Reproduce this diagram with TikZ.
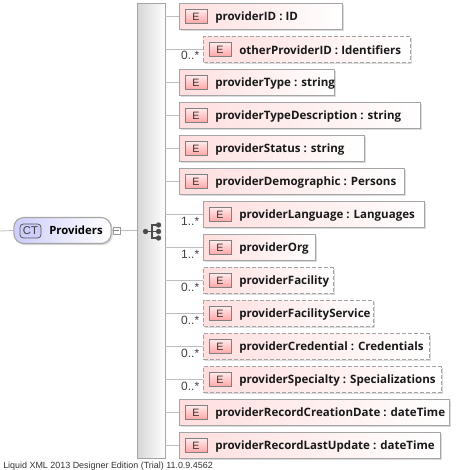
\documentclass[tikz,border=0pt]{standalone}
\usepackage{fontspec}
\setmainfont{Liberation Sans}
\newfontfamily\boldf{Open Sans}
\usetikzlibrary{shadows,calc}
\definecolor{edgegray}{RGB}{165,165,165}
\definecolor{linegray}{RGB}{190,190,190}
\definecolor{pinkfill}{RGB}{255,222,222}
\definecolor{ctblue}{RGB}{205,205,250}
\tikzset{
  x=0.75pt,y=-0.75pt,
  elembox/.style={draw=edgegray,line width=0.8pt,left color=pinkfill,right color=white,minimum height=19.3pt,inner sep=0pt,anchor=north west,
    general shadow={fill=black!14,shadow xshift=1.2pt,shadow yshift=-1.2pt}},
  dashbox/.style={elembox,dashed,dash pattern=on 3pt off 1.5pt},
  tagbox/.style={draw=black!50,line width=0.6pt,top color=pinkfill!60!white,bottom color=red!35!white,minimum width=16.5pt,minimum height=10.5pt,inner sep=0pt,font=\fontsize{8}{8}\selectfont,text=black!80},
  etext/.style={font=\boldf\bfseries\fontsize{8.65}{10}\selectfont,anchor=west,inner sep=0pt,text=black!90},
  conn/.style={draw=linegray,line width=0.6pt},
  occ/.style={font=\fontsize{9}{9}\selectfont,text=black!75,inner sep=0pt,anchor=base east},
  dotn/.style={circle,fill=black!70,inner sep=0pt,minimum size=4pt},
  spine/.style={draw=edgegray,line width=0.8pt,left color=black!16,right color=white},
  foot/.style={font=\fontsize{6.7}{8}\selectfont,inner sep=0pt,anchor=base west,text=black!80}
}
\newcommand{\elemrow}[7]{% name, style, x, y, width, text, occurrence
  \coordinate (#1c) at (165,#4+13);
  \draw[conn] (#1c) -- (#3,#4+13);
  \node[#2,minimum width=#5*0.75pt-0.5pt] (#1) at (#3,#4) {};
  \node[tagbox] (#1t) at ($(#1.west)+(12.75pt,0)$) {E};
  \node[etext] (#1l) at ($(#1.west)+(27pt,-0.5pt)$) {#6};
  \ifx&#7&\else\node[occ] (#1o) at (199.5,#4+24) {#7};\fi
}
\begin{document}
\begin{tikzpicture}
\useasboundingbox (0,0) rectangle (464,470);
\coordinate (leftend) at (0,231);
\node[draw=edgegray,line width=0.8pt,rounded corners=7.5pt,left color=ctblue,right color=white,minimum width=73pt,minimum height=19.5pt,inner sep=0pt,general shadow={fill=black!14,shadow xshift=1.2pt,shadow yshift=-1.2pt}] (root) at (62.5,230.5) {};
\draw[conn] (leftend) -- (root.west);
\node[draw=black!65,line width=0.6pt,rounded corners=2.5pt,fill=ctblue,minimum width=15.75pt,minimum height=10.5pt,inner sep=0pt,font=\fontsize{8.5}{8}\selectfont,text=black!75] (ct) at (30.5,231) {CT};
\node[font=\boldf\bfseries\fontsize{8.5}{10}\selectfont,anchor=west,inner sep=0pt] (rootl) at (49,230.5) {Providers};
\node[draw=black!40,line width=0.5pt,minimum size=5.5pt,inner sep=0pt] (minus) at (116.5,230.5) {};
\draw[black!50,line width=0.5pt] ($(minus.center)+(-1.8pt,0)$) -- ($(minus.center)+(1.8pt,0)$);
\draw[conn] (root.east) -- (minus.west);
\node[spine,minimum width=21pt,minimum height=341.5pt,inner sep=0pt,anchor=north west] (sp) at (137,3) {};
\draw[conn] (minus.east) -- (sp.west |- minus.east);
% sequence symbol
\node[dotn] (s0) at (145.5,231.5) {};
\node[dotn] (s1) at (158.5,225) {};
\node[dotn] (s2) at (158.5,231.5) {};
\node[dotn] (s3) at (158.5,238) {};
\coordinate (sj) at (152,231.5);
\draw[black!70,line width=0.8pt] (s0) -- (s2);
\draw[black!70,line width=0.8pt] (s1) -| (sj) |- (s3);
\elemrow{a}{elembox}{179}{3}{164}{providerID : ID}{}
\elemrow{b}{dashbox}{203}{36}{208}{otherProviderID : Identifiers}{0..*}
\elemrow{c}{elembox}{179}{69}{156}{providerType : string}{}
\elemrow{d}{elembox}{179}{102}{242}{providerTypeDescription : string}{}
\elemrow{e}{elembox}{179}{135}{186}{providerStatus : string}{}
\elemrow{f}{elembox}{179}{168}{226}{providerDemographic : Persons}{}
\elemrow{g}{elembox}{203}{201}{222}{providerLanguage : Languages}{1..*}
\elemrow{h}{elembox}{203}{234}{113}{providerOrg}{1..*}
\elemrow{i}{dashbox}{203}{267}{131}{providerFacility}{0..*}
\elemrow{j}{dashbox}{203}{300}{171}{providerFacilityService}{0..*}
\elemrow{k}{dashbox}{203}{333}{227}{providerCredential : Credentials}{0..*}
\elemrow{l}{dashbox}{203}{366}{239}{providerSpecialty : Specializations}{0..*}
\elemrow{m}{elembox}{179}{399}{271}{providerRecordCreationDate : dateTime}{}
\elemrow{n}{elembox}{179}{432}{262}{providerRecordLastUpdate : dateTime}{}
\node[foot] (ft) at (3,468) {Liquid XML 2013 Designer Edition (Trial) 11.0.9.4562};
\end{tikzpicture}
\end{document}
